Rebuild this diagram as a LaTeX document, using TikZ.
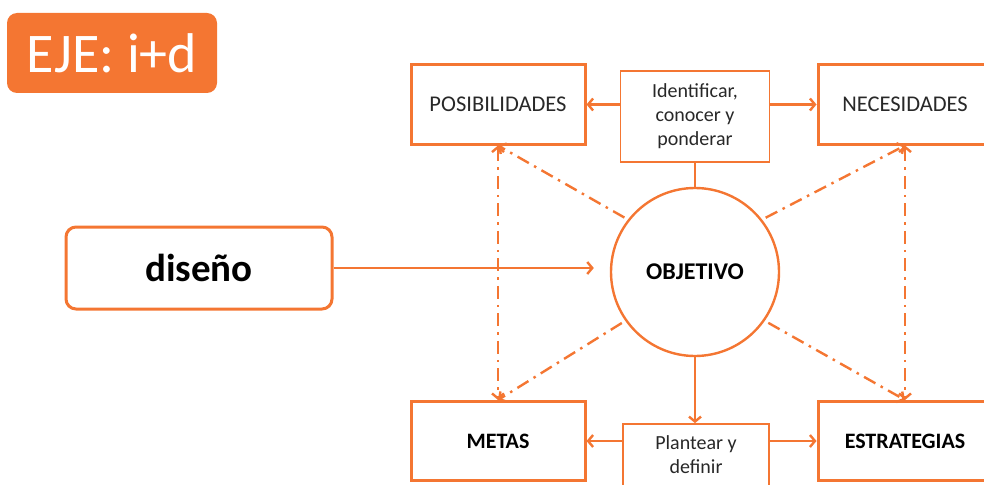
\documentclass[tikz,border=0pt]{standalone}
\usepackage{fontspec}
\setmainfont{Carlito}
\usetikzlibrary{arrows.meta}
\definecolor{orng}{RGB}{244,118,50}
\definecolor{txtg}{RGB}{40,40,40}
\tikzset{
  bigbox/.style={draw=orng, line width=3pt, fill=white, minimum width=174pt, minimum height=79pt, inner sep=0pt, text=txtg, font=\fontsize{22.5}{26}\selectfont},
  smallbox/.style={draw=orng, line width=1.7pt, fill=white, inner sep=0pt, text=txtg, align=center, font=\fontsize{20}{24}\selectfont},
  arr/.style={draw=orng, line width=2.4pt, -{Straight Barb[length=5pt,width=12pt]}},
  plain/.style={draw=orng, line width=2.4pt},
  dd/.style={draw=orng, line width=2.4pt, dash pattern=on 13pt off 6pt on 2.5pt off 6pt, -{Straight Barb[length=5pt,width=12pt]}},
  ddd/.style={draw=orng, line width=2.4pt, dash pattern=on 13pt off 6pt on 2.5pt off 6pt, {Straight Barb[length=5pt,width=12pt]}-{Straight Barb[length=5pt,width=12pt]}}
}
\begin{document}
\begin{tikzpicture}[x=1pt,y=-1pt]
\useasboundingbox (0,0) rectangle (984,484);
% title
\node[fill=orng, rounded corners=10pt, minimum width=210pt, minimum height=80pt, inner sep=0pt, text=white, font=\fontsize{56}{56}\selectfont] (eje) at (112,53) {EJE: i+d};
% design
\node[draw=orng, line width=3pt, rounded corners=10pt, minimum width=266pt, minimum height=82pt, inner sep=0pt, text=black, font=\fontsize{39}{40}\selectfont\bfseries] (dis) at (199,268) {diseño};
% objective
\node[draw=orng, line width=2.4pt, circle, minimum size=168pt, inner sep=0pt, text=black, font=\fontsize{24}{26}\selectfont\bfseries] (obj) at (695,272) {OBJETIVO};
% boxes
\node[bigbox] (pos) at (498,104.5) {POSIBILIDADES};
\node[bigbox] (nec) at (905,104.5) {NECESIDADES};
\node[bigbox, text=black, font=\fontsize{22}{26}\selectfont\bfseries] (met) at (498,441) {METAS};
\node[bigbox, text=black, font=\fontsize{22}{26}\selectfont\bfseries] (est) at (905,441) {ESTRATEGIAS};
\node[smallbox, minimum width=149pt, minimum height=91pt] (ide) at (695,116.5) {Identificar,\\conocer y\\ponderar};
\node[smallbox, minimum width=146pt, minimum height=62pt] (pla) at (696,455) {Plantear y\\definir};
% connectors
\draw[arr] (dis.east) -- ([xshift=-16pt]dis.east -| obj.west);
\draw[arr] (ide.west |- pos.east) -- (pos.east);
\draw[arr] (ide.east |- nec.west) -- (nec.west);
\draw[arr] (pla.west |- met.east) -- (met.east);
\draw[arr] (pla.east |- est.west) -- (est.west);
\draw[plain] (ide.south) -- (obj.north);
\draw[arr] (obj.south) -- (obj.south |- pla.north);
% dash-dot links
\draw[ddd] (pos.south) -- (met.north);
\draw[ddd] (nec.south) -- (est.north);
\draw[dd, shorten <=4pt] (obj.142) -- (pos.south);
\draw[dd, shorten <=4pt] (obj.215) -- (met.north);
\draw[dd, shorten <=4pt] (obj.38) -- (nec.south);
\draw[dd, shorten <=4pt] (obj.-35) -- (est.north);
\end{tikzpicture}
\end{document}
